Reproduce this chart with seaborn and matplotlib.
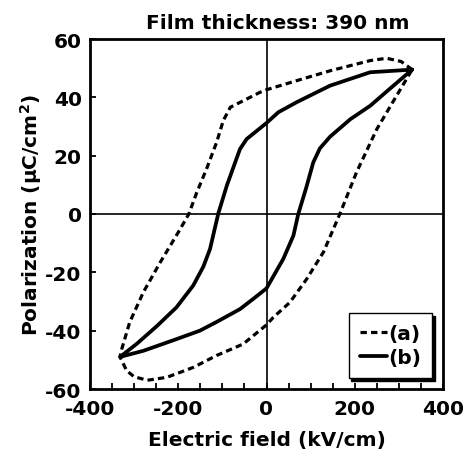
import matplotlib
matplotlib.use("Agg")
import matplotlib.pyplot as plt
import seaborn as sns
import pandas as pd

# ---- data ----
E_a = [330, 305, 272, 235, 144, 68, 0, -15, -53, -82, -98, -113, -136, -158, -176, -200, -241, -279, -310, -328, -332,
       -317, -300, -270, -226, -166, -113, -53, 0, 15, 53, 91, 129, 167, 204, 250, 295, 330]
P_a = [49.5, 52.3, 53.4, 52.6, 49.1, 45.7, 42.6, 41.7, 38.8, 36.6, 32.0, 24.6, 15.4, 7.4, 0.0, -6.3, -16.6, -26.8, -37.1, -46.3, -49.0,
       -53.7, -55.8, -57.0, -56.0, -52.6, -48.5, -44.6, -38.0, -35.5, -30.3, -22.3, -13.1, 0.3, 14.3, 29.1, 40.6, 49.5]

E_b = [330, 235, 144, 68, 27, 0, -45, -60, -71, -90, -109, -118, -128, -143, -166, -204, -249, -294, -332,
       -279, -204, -151, -113, -60, -30, 0, 38, 61, 72, 90, 106, 121, 144, 190, 235, 280, 330]
P_b = [49.5, 48.6, 44.0, 38.3, 34.9, 31.2, 25.7, 22.3, 17.7, 9.7, 0.3, -5.5, -12.0, -18.0, -24.5, -32.0, -38.5, -44.5, -49.0,
       -46.9, -42.9, -40.0, -37.0, -32.6, -29.1, -25.5, -15.4, -7.4, 0.0, 9.0, 17.7, 22.5, 26.5, 32.5, 37.1, 43.0, 49.5]

labels = ["(a)", "(b)"]
x_ticks = [-400, -200, 0, 200, 400]
y_ticks = [-60, -40, -20, 0, 20, 40, 60]

df_a = pd.DataFrame({"E": E_a, "P": P_a})
df_b = pd.DataFrame({"E": E_b, "P": P_b})

sns.set_style("ticks")
plt.rcParams["font.family"] = ["DejaVu Sans"]
plt.rcParams["font.weight"] = "bold"
plt.rcParams["axes.unicode_minus"] = False
plt.rcParams["text.color"] = "black"
plt.rcParams["axes.labelcolor"] = "black"
plt.rcParams["xtick.color"] = "black"
plt.rcParams["ytick.color"] = "black"
plt.rcParams["mathtext.fontset"] = "dejavusans"
plt.rcParams["mathtext.default"] = "bf"

FS = 14.5

fig = plt.figure(figsize=(4.68, 4.52), dpi=100)
ax = fig.add_axes([90 / 468, 1 - 390 / 452, 353 / 468, 350 / 452])

ax.axhline(0, color="black", lw=1.2, zorder=1)
ax.axvline(0, color="black", lw=1.2, zorder=1)

sns.lineplot(data=df_a, x="E", y="P", sort=False, estimator=None, ax=ax,
             color="black", lw=2.3, linestyle=(0, (2.0, 1.3)), label=labels[0])
sns.lineplot(data=df_b, x="E", y="P", sort=False, estimator=None, ax=ax,
             color="black", lw=2.7, linestyle="-", label=labels[1])

ax.set_xlim(-400, 400)
ax.set_ylim(-60, 60)
ax.set_xticks(x_ticks)
ax.set_yticks(y_ticks)
ax.set_xticks(range(-350, 400, 50), minor=True)
ax.tick_params(axis="both", which="major", direction="in", length=4.5, width=1.3,
               labelsize=FS, colors="black")
ax.tick_params(axis="x", which="major", pad=7)
ax.tick_params(axis="y", which="major", pad=6)
ax.tick_params(axis="x", which="minor", direction="in", length=4.5, width=1.3)
for lab in ax.get_xticklabels() + ax.get_yticklabels():
    lab.set_fontweight("bold")

for s in ax.spines.values():
    s.set_linewidth(2.0)
    s.set_color("black")

ax.set_xlabel("Electric field (kV/cm)", fontsize=FS, fontweight="bold", labelpad=9)
ax.set_ylabel("Polarization (μC/cm$^{2}$)", fontsize=FS, fontweight="bold", labelpad=1)
ax.set_title("Film thickness: 390 nm", fontsize=FS, fontweight="bold", x=0.531, pad=8)

leg = ax.legend(loc="lower right", frameon=True, fancybox=False,
                shadow={"color": "black", "alpha": 1.0},
                prop={"weight": "bold", "size": FS}, handlelength=1.35,
                handletextpad=0.05, borderpad=0.55, labelspacing=0.25,
                borderaxespad=0.55)
leg.get_frame().set_edgecolor("black")
leg.get_frame().set_linewidth(1.0)
leg.get_frame().set_alpha(1.0)

fig.savefig("out.png", dpi=100)
